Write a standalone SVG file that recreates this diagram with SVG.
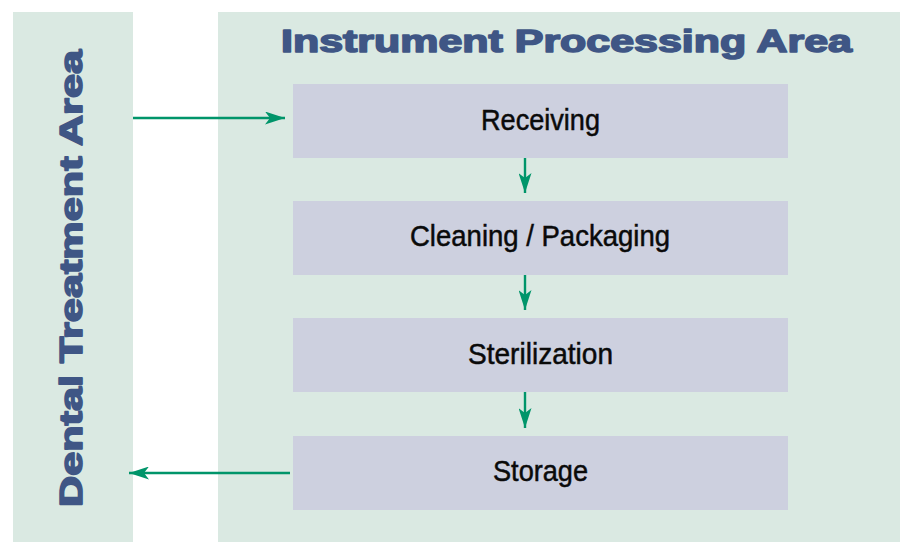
<svg xmlns="http://www.w3.org/2000/svg" width="900" height="542" viewBox="0 0 900 542">
  <defs>
    <style>
      .panel { fill: #dae9e2; }
      .box { fill: #cdd0df; }
      .head { font-family: "Liberation Sans", Arial, sans-serif; font-weight: bold; font-size: 31px; fill: #3f5685; stroke: #3f5685; stroke-width: 1.6px; stroke-linejoin: round; }
      .lbl { font-family: "Liberation Sans Narrow", "Liberation Sans", Arial, sans-serif; font-size: 30px; fill: #0a0a0a; stroke: #0a0a0a; stroke-width: 0.5px; text-anchor: middle; }
      .conn { stroke: #00956a; stroke-width: 2.4; fill: none; }
    </style>
    <marker id="ah" viewBox="0 0 20 13" refX="20" refY="6.5" markerWidth="20" markerHeight="13" markerUnits="userSpaceOnUse" orient="auto">
      <path d="M0,0 L20,6.5 L0,13 L5,6.5 Z" fill="#00956a"/>
    </marker>
  </defs>
  <rect width="900" height="542" fill="#ffffff"/>
  <g id="dental-treatment-area">
    <rect class="panel" x="13" y="12" width="120" height="530"/>
    <text class="head" transform="translate(82,507) rotate(-90)" textLength="457" lengthAdjust="spacingAndGlyphs">Dental Treatment Area</text>
  </g>
  <g id="instrument-processing-area">
    <rect class="panel" x="218" y="12" width="682" height="530"/>
    <text class="head" x="281" y="52" textLength="571" lengthAdjust="spacingAndGlyphs">Instrument Processing Area</text>
  </g>
  <g id="receiving">
    <rect class="box" x="293" y="84" width="495" height="74"/>
    <text class="lbl" x="540.5" y="130" textLength="119" lengthAdjust="spacingAndGlyphs">Receiving</text>
  </g>
  <g id="cleaning-packaging">
    <rect class="box" x="293" y="201" width="495" height="74"/>
    <text class="lbl" x="540" y="246" textLength="260" lengthAdjust="spacingAndGlyphs">Cleaning / Packaging</text>
  </g>
  <g id="sterilization">
    <rect class="box" x="293" y="318" width="495" height="74"/>
    <text class="lbl" x="540.5" y="364" textLength="145" lengthAdjust="spacingAndGlyphs">Sterilization</text>
  </g>
  <g id="storage">
    <rect class="box" x="293" y="436" width="495" height="74"/>
    <text class="lbl" x="540.5" y="481" textLength="95" lengthAdjust="spacingAndGlyphs">Storage</text>
  </g>
  <g id="connectors">
    <line class="conn" x1="133" y1="118" x2="285" y2="118" marker-end="url(#ah)"/>
    <line class="conn" x1="525" y1="158" x2="525" y2="193" marker-end="url(#ah)"/>
    <line class="conn" x1="525" y1="275" x2="525" y2="310" marker-end="url(#ah)"/>
    <line class="conn" x1="525" y1="392" x2="525" y2="428" marker-end="url(#ah)"/>
    <line class="conn" x1="290" y1="473" x2="129" y2="473" marker-end="url(#ah)"/>
  </g>
</svg>
